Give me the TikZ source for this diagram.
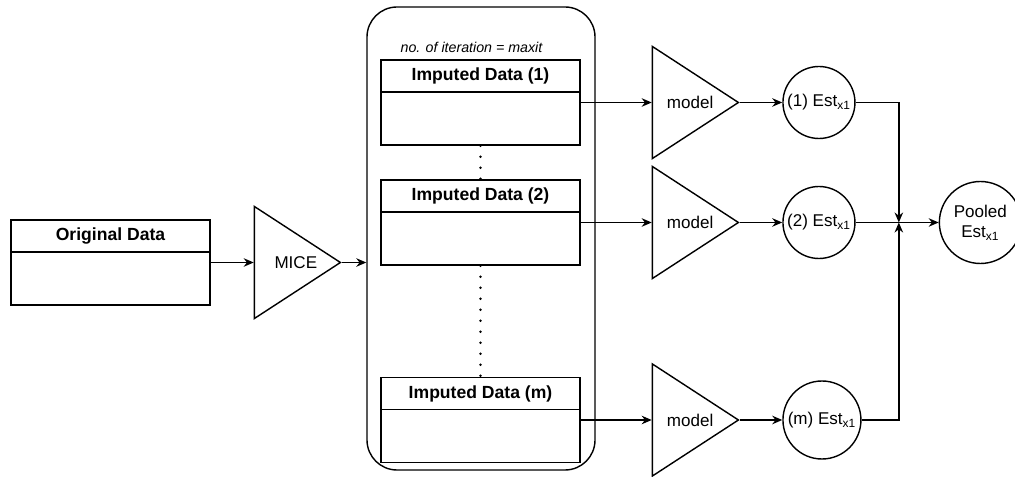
\documentclass[tikz,border=0pt]{standalone}
\usepackage{fontspec}
\setmainfont{Liberation Sans}
\usetikzlibrary{calc, shapes.geometric, positioning, arrows.meta}

\tikzset{
  databox/.style={draw, line width=0.8pt, minimum width=3.98cm, minimum height=1.7cm, inner sep=0pt,
    path picture={\draw[line width=0.8pt] ([yshift=-0.64cm]path picture bounding box.north west) -- ([yshift=-0.64cm]path picture bounding box.north east);},
    label={[font=\bfseries, anchor=center, yshift=-0.34cm]north:#1}},
  modeltri/.style={draw, line width=0.8pt, isosceles triangle, isosceles triangle stretches,
    minimum width=2.24cm, minimum height=1.72cm, inner sep=0pt},
  estcirc/.style={draw, circle, line width=0.8pt, minimum size=1.44cm, inner sep=0pt, align=center},
  link/.style={->, line width=0.8pt},
  dotline/.style={line width=1.6pt, line cap=round, dash pattern=on 0pt off 0.22cm}
}

\begin{document}
\begin{tikzpicture}[>={Stealth[length=0.2cm, width=0.17cm]}, font=\fontsize{9.7}{11.6}\selectfont]
    \useasboundingbox (0,0) rectangle (20.3,-9.54);

    % input data and MICE
    \node[databox=Original Data] (orig) at (2.21,-5.25) {};
    \node[modeltri, right=0.86cm of orig] (mice) {\hspace*{0.25cm}MICE};

    % container of the imputed data sets
    \node[draw, line width=0.8pt, rounded corners=0.6cm, minimum width=4.56cm, minimum height=9.26cm] (iter) at (9.62,-4.77) {};
    \node[databox=Imputed Data (1)] (imp1) at (9.61,-2.05) {};
    \node[databox=Imputed Data (2)] (imp2) at (9.61,-4.45) {};
    \node[databox=Imputed Data (m)] (impm) at (9.61,-8.40) {};
    \node[font=\fontsize{8.1}{9.7}\selectfont\itshape, above=0.0cm of imp1, xshift=-0.18cm] (itlab) {no. of iteration = maxit};

    \draw[dotline] (imp1.south) -- (imp2.north);
    \draw[dotline] (imp2.south) -- (impm.north);

    % models
    \node[modeltri, right=1.42cm of imp1] (mod1) {\hspace*{0.12cm}model};
    \node[modeltri, right=1.42cm of imp2] (mod2) {\hspace*{0.12cm}model};
    \node[modeltri, right=1.42cm of impm] (modm) {\hspace*{0.12cm}model};

    % estimates
    \node[estcirc, right=0.84cm of mod1] (est1) {(1) Est\textsubscript{x1}};
    \node[estcirc, right=0.84cm of mod2] (est2) {(2) Est\textsubscript{x1}};
    \node[estcirc, minimum size=1.56cm, right=0.84cm of modm] (estm) {(m) Est\textsubscript{x1}};
    \node[estcirc, minimum size=1.64cm, right=1.66cm of est2] (pool) {Pooled\\Est\textsubscript{x1}};
    \coordinate (join) at ($(est2.east)!0.52!(pool.west)$);

    % connectors
    \draw[link] (orig.east) -- (mice.west);
    \draw[link] (mice.east) -- (mice.east -| iter.west);
    \draw[link] (imp1.east) -- (mod1.west);
    \draw[link] (imp2.east) -- (mod2.west);
    \draw[link] (impm.east) -- (modm.west);
    \draw[link] (mod1.east) -- (est1.west);
    \draw[link] (mod2.east) -- (est2.west);
    \draw[link] (modm.east) -- (estm.west);
    \draw[link] (est1.east) -| (join);
    \draw[link] (estm.east) -| (join);
    \draw[link] (est2.east) -- (pool.west);

\end{tikzpicture}
\end{document}
